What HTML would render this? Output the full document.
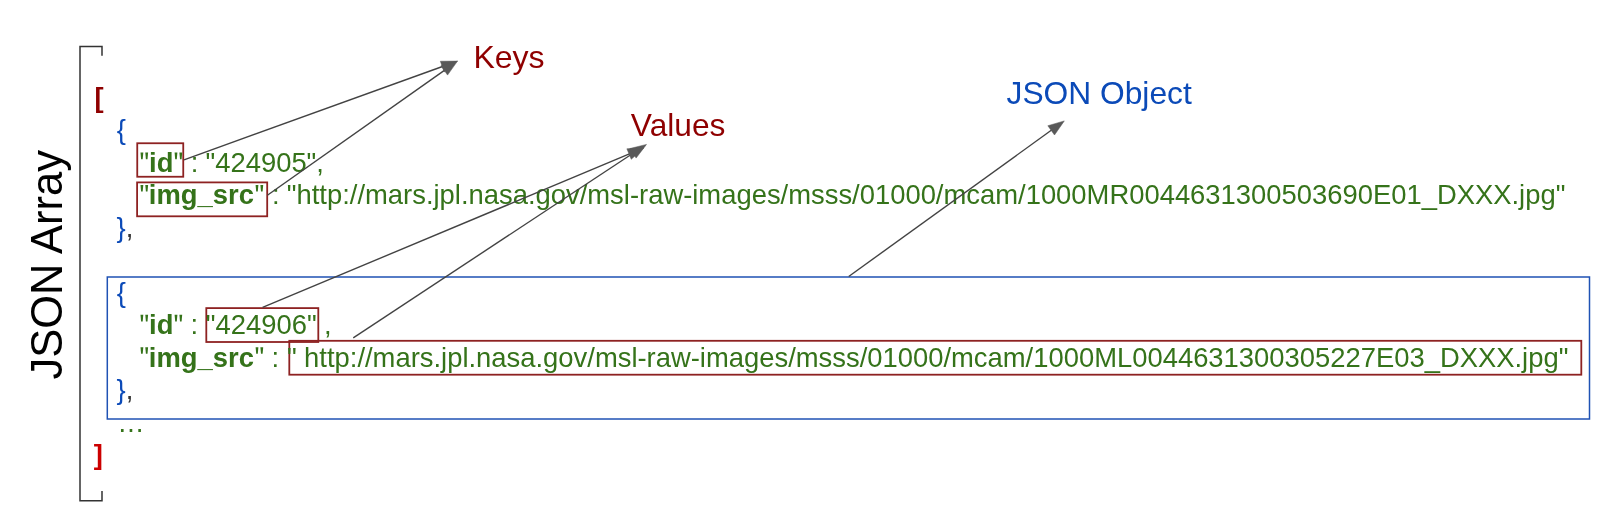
<!DOCTYPE html>
<html><head><meta charset="utf-8"><style>
html,body{margin:0;padding:0;background:#fff;}
body{width:1600px;height:530px;overflow:hidden;}
svg{display:block;will-change:transform;}
text{font-family:"Liberation Sans",sans-serif;white-space:pre;}
</style></head><body>
<svg width="1600" height="530" viewBox="0 0 1600 530">
<rect width="1600" height="530" fill="#fff"/>
<path d="M102 55.7 V46.4 H80 V500.7 H102 V491" fill="none" stroke="#333333" stroke-width="1.5"/>
<rect x="107.3" y="277" width="1482.2" height="142" fill="none" stroke="#1f52b4" stroke-width="1.5"/>
<rect x="137.25" y="143.25" width="46.0" height="33.5" fill="none" stroke="#8e2222" stroke-width="1.8"/>
<rect x="137.1" y="182.4" width="130.1" height="33.900000000000006" fill="none" stroke="#8e2222" stroke-width="1.8"/>
<rect x="206.3" y="308.1" width="112.0" height="33.89999999999998" fill="none" stroke="#8e2222" stroke-width="1.8"/>
<rect x="289.3" y="340.8" width="1292.0" height="33.89999999999998" fill="none" stroke="#8e2222" stroke-width="1.8"/>
<text x="94.4" y="107.00" fill="#8f0000" font-weight="700" font-size="27.4">[</text>
<text x="116.85" y="139.44" fill="#0b4ab8" font-weight="400" font-size="27.4">{</text>
<polygon points="140.50,152.58 143.30,152.58 142.70,159.18 141.10,159.18" fill="#35731a"/><polygon points="145.30,152.58 148.10,152.58 147.50,159.18 145.90,159.18" fill="#35731a"/>
<text x="149.1" y="171.88" fill="#35731a" font-weight="700" font-size="27.4">id</text>
<polygon points="174.60,152.58 177.40,152.58 176.80,159.18 175.20,159.18" fill="#35731a"/><polygon points="179.40,152.58 182.20,152.58 181.60,159.18 180.00,159.18" fill="#35731a"/>
<text x="190.7" y="171.88" fill="#35731a" font-weight="400" font-size="27.4">:</text>
<text x="205.5" y="171.88" fill="#35731a" font-weight="400" font-size="27.4">"424905",</text>
<polygon points="140.50,185.02 143.30,185.02 142.70,191.62 141.10,191.62" fill="#35731a"/><polygon points="145.30,185.02 148.10,185.02 147.50,191.62 145.90,191.62" fill="#35731a"/>
<text x="148.85" y="204.32" fill="#35731a" font-weight="700" font-size="27.4">img_src</text>
<polygon points="255.60,185.02 258.40,185.02 257.80,191.62 256.20,191.62" fill="#35731a"/><polygon points="260.40,185.02 263.20,185.02 262.60,191.62 261.00,191.62" fill="#35731a"/>
<text x="271.9" y="204.32" fill="#35731a" font-weight="400" font-size="27.4">:</text>
<text x="286.8" y="204.32" fill="#35731a" font-weight="400" font-size="27.4">"http://mars.jpl.nasa.gov/msl-raw-images/msss/01000/mcam/1000MR0044631300503690E01_DXXX.jpg"</text>
<text x="116.5" y="236.76" fill="#0b4ab8" font-weight="400" font-size="27.4">}</text>
<text x="125.65" y="236.76" fill="#333333" font-weight="400" font-size="27.4">,</text>
<text x="116.85" y="301.64" fill="#0b4ab8" font-weight="400" font-size="27.4">{</text>
<polygon points="140.50,314.78 143.30,314.78 142.70,321.38 141.10,321.38" fill="#35731a"/><polygon points="145.30,314.78 148.10,314.78 147.50,321.38 145.90,321.38" fill="#35731a"/>
<text x="149.1" y="334.08" fill="#35731a" font-weight="700" font-size="27.4">id</text>
<polygon points="174.60,314.78 177.40,314.78 176.80,321.38 175.20,321.38" fill="#35731a"/><polygon points="179.40,314.78 182.20,314.78 181.60,321.38 180.00,321.38" fill="#35731a"/>
<text x="190.5" y="334.08" fill="#35731a" font-weight="400" font-size="27.4">:</text>
<text x="205.8" y="334.08" fill="#35731a" font-weight="400" font-size="27.4">"424906"</text>
<text x="324.0" y="334.08" fill="#35731a" font-weight="400" font-size="27.4">,</text>
<polygon points="140.50,347.22 143.30,347.22 142.70,353.82 141.10,353.82" fill="#35731a"/><polygon points="145.30,347.22 148.10,347.22 147.50,353.82 145.90,353.82" fill="#35731a"/>
<text x="148.85" y="366.52" fill="#35731a" font-weight="700" font-size="27.4">img_src</text>
<polygon points="255.60,347.22 258.40,347.22 257.80,353.82 256.20,353.82" fill="#35731a"/><polygon points="260.40,347.22 263.20,347.22 262.60,353.82 261.00,353.82" fill="#35731a"/>
<text x="271.5" y="366.52" fill="#35731a" font-weight="400" font-size="27.4">:</text>
<text x="287.0" y="366.52" fill="#35731a" font-weight="400" font-size="27.4">"</text>
<text x="304.1" y="366.52" fill="#35731a" font-weight="400" font-size="27.4">http://mars.jpl.nasa.gov/msl-raw-images/msss/01000/mcam/1000ML0044631300305227E03_DXXX.jpg"</text>
<text x="116.5" y="398.96" fill="#0b4ab8" font-weight="400" font-size="27.4">}</text>
<text x="125.65" y="398.96" fill="#333333" font-weight="400" font-size="27.4">,</text>
<text x="117.2" y="432.40" fill="#35731a" font-weight="400" font-size="27.4">…</text>
<text x="93.8" y="463.84" fill="#cc0000" font-weight="700" font-size="27.4">]</text>
<text x="473.375" y="68.00" fill="#8f0000" font-weight="400" font-size="32">Keys</text>
<text x="630.860693359375" y="136.00" fill="#8f0000" font-weight="400" font-size="31.7">Values</text>
<text x="1006.50390625" y="103.80" fill="#0b4ab8" font-weight="400" font-size="31.75">JSON Object</text>
<text transform="translate(61.9,379.6) rotate(-90)" fill="#000" font-size="43.5">JSON Array</text>
<line x1="184.00" y1="159.80" x2="443.20" y2="66.26" stroke="#434343" stroke-width="1.4"/>
<line x1="267.40" y1="195.30" x2="445.08" y2="69.87" stroke="#434343" stroke-width="1.4"/>
<line x1="262.60" y1="307.40" x2="629.98" y2="153.67" stroke="#434343" stroke-width="1.4"/>
<line x1="353.25" y1="337.80" x2="633.81" y2="152.77" stroke="#434343" stroke-width="1.4"/>
<line x1="848.70" y1="276.50" x2="1051.97" y2="129.80" stroke="#434343" stroke-width="1.4"/>
<polygon points="457.50,61.10 444.20,71.96 440.33,61.24" fill="#595959" stroke="#595959" stroke-width="0.5" stroke-linejoin="miter"/>
<polygon points="457.50,61.10 447.55,75.10 440.98,65.79" fill="#595959" stroke="#595959" stroke-width="0.5" stroke-linejoin="miter"/>
<polygon points="644.00,147.80 631.26,159.31 626.86,148.80" fill="#595959" stroke="#595959" stroke-width="0.5" stroke-linejoin="miter"/>
<polygon points="646.50,144.40 636.11,158.08 629.84,148.56" fill="#595959" stroke="#595959" stroke-width="0.5" stroke-linejoin="miter"/>
<polygon points="1064.30,120.90 1054.50,135.00 1047.83,125.76" fill="#595959" stroke="#595959" stroke-width="0.5" stroke-linejoin="miter"/>
</svg>
</body></html>
